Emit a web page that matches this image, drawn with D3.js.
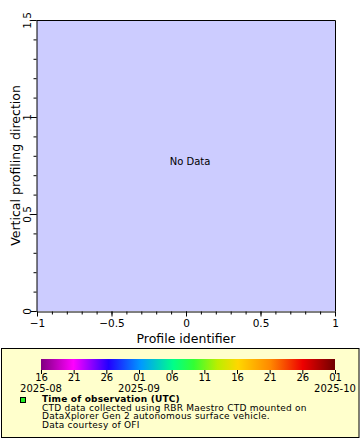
<!DOCTYPE html>
<html><head><meta charset="utf-8">
<script src="https://cdn.jsdelivr.net/npm/d3@7"></script>
<style>
html,body{margin:0;padding:0;background:#fff;}
svg text{font-family:"DejaVu Sans",sans-serif;fill:#000;}
</style></head><body>
<svg id="chart" width="360" height="440"></svg>
<script>
// ---- data ----
const xDomain = [-1, 1];
const yDomain = [0, 1.5];
const xMajorTicks = [-1, -0.5, 0, 0.5, 1];
const yMajorTicks = [0, 0.5, 1, 1.5];
const minorStep = 0.1;
const dayLabels = ["16","21","26","01","06","11","16","21","26","01"];
const monthLabels = [{i:0, label:"2025-08"}, {i:3, label:"2025-09"}, {i:9, label:"2025-10"}];
const paletteStops = [
  [0.00,"#800080"],[0.11,"#ff00ff"],[0.23,"#2200ff"],[0.34,"#0099ff"],
  [0.45,"#00ff88"],[0.52,"#33ff33"],[0.60,"#bbee00"],[0.67,"#ffd700"],
  [0.78,"#ff8800"],[0.89,"#ee0000"],[1.00,"#700000"]
];
const legendTitle = "Time of observation (UTC)";
const legendLines = [
  "CTD data collected using RBR Maestro CTD mounted on",
  "DataXplorer Gen 2 autonomous surface vehicle.",
  "Data courtesy of OFI"
];
const xTitle = "Profile identifier";
const yTitle = "Vertical profiling direction";
const noDataText = "No Data";

// ---- layout ----
const svg = d3.select("#chart");
const plot = {l:37, r:335, t:20, b:311};
const x = d3.scaleLinear().domain(xDomain).range([plot.l, plot.r]);
const y = d3.scaleLinear().domain(yDomain).range([plot.b, plot.t]);
const fmt = d => d3.format("")(d);

svg.append("rect").attr("x",plot.l).attr("y",plot.t)
  .attr("width",plot.r-plot.l).attr("height",plot.b-plot.t)
  .attr("fill","#ccccff");
// top and right borders
svg.append("path").attr("d",`M${plot.l},${plot.t+0.5}H${plot.r+0.5}V${plot.b}`)
  .attr("fill","none").attr("stroke","#000");

const xMinor = d3.range(xDomain[0], xDomain[1]+1e-9, minorStep);
const yMinor = d3.range(yDomain[0], yDomain[1]+1e-9, minorStep);

// x axis
const gx = svg.append("g").attr("transform",`translate(0,${plot.b+0.5})`);
gx.call(d3.axisBottom(x).tickValues(xMinor).tickSize(3).tickFormat("").tickSizeOuter(0));
gx.call(g=>g.select(".domain").remove());
const gx2 = svg.append("g").attr("transform",`translate(0,${plot.b+0.5})`);
gx2.call(d3.axisBottom(x).tickValues(xMajorTicks).tickSize(5).tickSizeOuter(0).tickPadding(3).tickFormat(fmt));
gx2.selectAll("text").attr("font-size",10.5).attr("font-family","DejaVu Sans");
[gx,gx2].forEach(g=>g.selectAll("line").attr("stroke","#000"));
gx2.select(".domain").attr("stroke","#000");

// y axis
const gy = svg.append("g").attr("transform",`translate(${plot.l-0.5},0)`);
gy.call(d3.axisLeft(y).tickValues(yMinor).tickSize(3).tickFormat("").tickSizeOuter(0));
gy.call(g=>g.select(".domain").remove());
const gy2 = svg.append("g").attr("transform",`translate(${plot.l-0.5},0)`);
gy2.call(d3.axisLeft(y).tickValues(yMajorTicks).tickSize(6).tickSizeOuter(0).tickFormat(fmt));
gy2.selectAll("text")
  .attr("font-size",10.5).attr("font-family","DejaVu Sans")
  .attr("x",null).attr("dy",null)
  .attr("text-anchor","middle")
  .attr("transform","translate(-5.5,0) rotate(-90)");
[gy,gy2].forEach(g=>g.selectAll("line").attr("stroke","#000"));
gy2.select(".domain").attr("stroke","#000");

// titles
svg.append("text").attr("x",(plot.l+plot.r)/2).attr("y",343)
  .attr("text-anchor","middle").attr("font-size",12.5).text(xTitle);
svg.append("text").attr("transform",`translate(20,${(plot.t+plot.b)/2}) rotate(-90)`)
  .attr("text-anchor","middle").attr("font-size",12.5).text(yTitle);
svg.append("text").attr("x",x(0)+4).attr("y",164.5)
  .attr("text-anchor","middle").attr("font-size",10).text(noDataText);

// legend box
svg.append("rect").attr("x",1.5).attr("y",348.5).attr("width",357.5).attr("height",89)
  .attr("fill","#ffffcc").attr("stroke","#000");

// colorbar
const cb = {l:41, r:335, t:359, h:11};
const grad = svg.append("defs").append("linearGradient").attr("id","pal");
grad.selectAll("stop").data(paletteStops).join("stop")
  .attr("offset",d=>d[0]).attr("stop-color",d=>d[1]);
svg.append("rect").attr("x",cb.l).attr("y",cb.t).attr("width",cb.r-cb.l).attr("height",cb.h)
  .attr("fill","url(#pal)");
const cx = d3.scalePoint().domain(d3.range(dayLabels.length)).range([cb.l, cb.r]);
const gc = svg.append("g").attr("transform",`translate(0,${cb.t+cb.h})`);
gc.call(d3.axisBottom(cx).tickSize(4).tickPadding(0).tickSizeOuter(0).tickFormat(i=>dayLabels[i]));
gc.select(".domain").remove();
gc.selectAll("line").attr("stroke","#000");
gc.selectAll("text").attr("font-size",10).attr("font-family","DejaVu Sans").attr("dy","0.7em");
svg.selectAll("text.month").data(monthLabels).join("text").attr("class","month")
  .attr("x",d=>cx(d.i)).attr("y",392).attr("text-anchor","middle")
  .attr("font-size",10).text(d=>d.label);

// legend marker + text
svg.append("rect").attr("x",20.5).attr("y",397.5).attr("width",5).attr("height",5)
  .attr("fill","#22ee22").attr("stroke","#000");
svg.append("text").attr("x",42).attr("y",402).attr("font-size",9)
  .attr("font-weight","bold").attr("letter-spacing",0.2).text(legendTitle);
svg.selectAll("text.ll").data(legendLines).join("text").attr("class","ll")
  .attr("x",42).attr("y",(d,i)=>410.5+i*8.5).attr("font-size",9)
  .attr("letter-spacing",0.25).text(d=>d);
</script>
</body></html>
